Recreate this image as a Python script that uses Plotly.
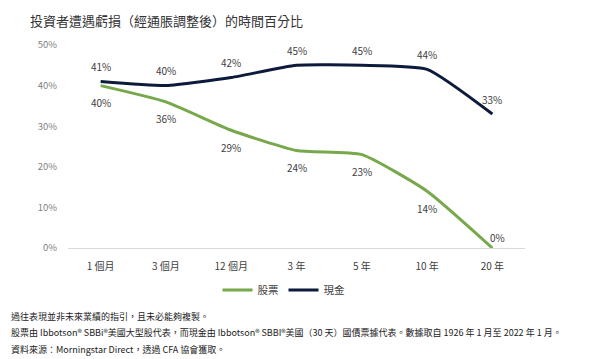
import plotly.graph_objects as go

categories = ["1 個月", "3 個月", "12 個月", "3 年", "5 年", "10 年", "20 年"]
stocks = [40, 36, 29, 24, 23, 14, 0]
cash = [41, 40, 42, 45, 45, 44, 33]
y_ticks = [0, 10, 20, 30, 40, 50]
y_tick_labels = ["0%", "10%", "20%", "30%", "40%", "50%"]

GREEN = "#77a84b"
NAVY = "#0c1a3c"
FONT = "Noto Sans CJK TC, Noto Sans, sans-serif"

fig = go.Figure()
fig.add_trace(go.Scatter(x=categories, y=stocks, name="股票", mode="lines",
                         line=dict(color=GREEN, width=3, shape="spline", smoothing=0.5)))
fig.add_trace(go.Scatter(x=categories, y=cash, name="現金", mode="lines",
                         line=dict(color=NAVY, width=3, shape="spline", smoothing=0.5)))

annotations = []
for i, (c, v) in enumerate(zip(categories, cash)):
    annotations.append(dict(x=c, y=v, xref="x", yref="y", text=f"{v}%", showarrow=False,
                            yshift=15, font=dict(size=10, color="#404040", family=FONT)))
for i, (c, v) in enumerate(zip(categories, stocks)):
    last = i == len(stocks) - 1
    annotations.append(dict(x=c, y=v, xref="x", yref="y", text=f"{v}%", showarrow=False,
                            yshift=11 if last else -17, xshift=5 if last else 0,
                            font=dict(size=10, color="#404040", family=FONT)))

# page has an 8px body margin: figure coords = page coords - 8
OFF = 8
W, H = 600 - OFF, 359 - OFF
L, T = 68 - OFF, 45 - OFF
R = W - (525 - OFF)
B = H - (248 - OFF)
pw, ph = W - L - R, H - T - B
def px_x(x):
    return (x - OFF - L) / pw
def px_y(y):
    return (H - B - (y - OFF)) / ph

footnotes = [
    "過往表現並非未來業績的指引，且未必能夠複製。",
    "股票由 Ibbotson® SBBi®美國大型股代表，而現金由 Ibbotson® SBBI®美國（30 天）國債票據代表。數據取自 1926 年 1 月至 2022 年 1 月。",
    "資料來源：Morningstar Direct，透過 CFA 協會獲取。",
]
for k, t in enumerate(footnotes):
    annotations.append(dict(x=px_x(9), y=px_y(316 + 16.5 * k), xref="paper", yref="paper",
                            xanchor="left", yanchor="middle", text=t, showarrow=False,
                            font=dict(size=9, color="#222222", family=FONT)))

annotations.append(dict(x=px_x(28), y=px_y(21), xref="paper", yref="paper",
                        xanchor="left", yanchor="middle", text="投資者遭遇虧損（經通脹調整後）的時間百分比",
                        showarrow=False, font=dict(size=13, color="#333333", family=FONT)))

fig.update_layout(
    width=W, height=H,
    margin=dict(l=L, r=R, t=T, b=B, autoexpand=False),
    paper_bgcolor="white", plot_bgcolor="white",
    font=dict(family=FONT, size=10, color="#595959"),
    showlegend=True,
    legend=dict(orientation="h", x=px_x(284), xanchor="center", y=px_y(290), yanchor="middle",
                font=dict(size=10.5, color="#404040", family=FONT), itemwidth=30),
    annotations=annotations,
    xaxis=dict(type="category", range=[-0.5, len(categories) - 0.5], showgrid=False,
               showline=True, linecolor="#d9d9d9", linewidth=1,
               ticks="outside", ticklen=9, tickcolor="rgba(0,0,0,0)",
               tickfont=dict(size=10, color="#404040"), zeroline=False),
    yaxis=dict(range=[0, 50], tickvals=y_ticks, ticktext=y_tick_labels, showgrid=False,
               zeroline=False, showline=False, ticks="outside", ticklen=8, tickcolor="rgba(0,0,0,0)",
               tickfont=dict(size=9.5, color="#7f7f7f")),
)
fig.write_html("out.html")
